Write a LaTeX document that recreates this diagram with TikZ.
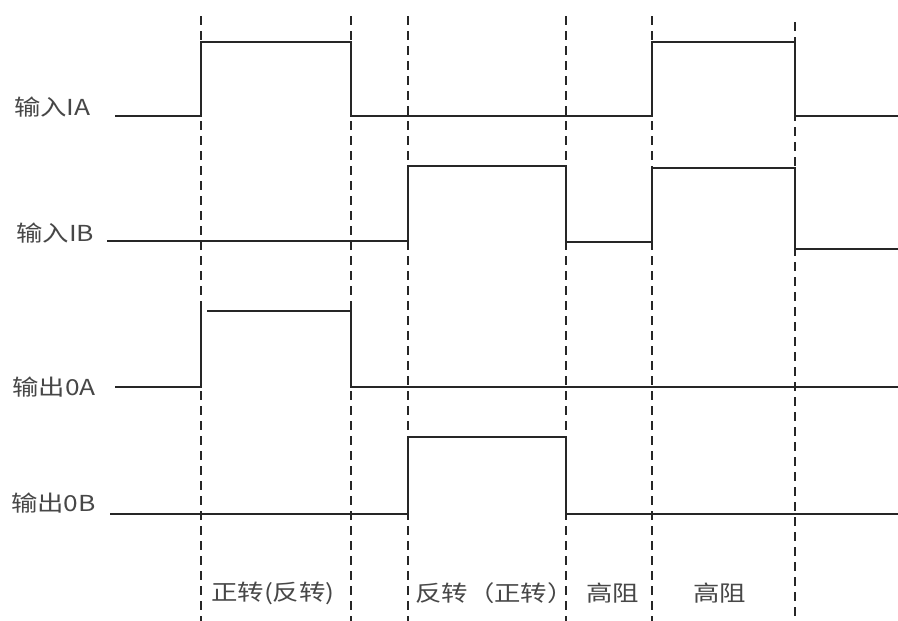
\documentclass[tikz,border=0pt]{standalone}
\usepackage{fontspec}
\setmainfont{Noto Sans CJK SC}
\newfontfamily\widecjk[FakeStretch=1.2]{Noto Sans CJK SC}
\begin{document}
\begin{tikzpicture}[x=1pt,y=-1pt,
  sig/.style={line width=1.3pt,black!85},
  grid/.style={line width=1.1pt,black!85,dash pattern=on 9pt off 6pt},
  lbl/.style={inner sep=0pt,anchor=west,text=black!72,font=\widecjk\fontsize{22}{26}\selectfont}]
\useasboundingbox[fill=white] (0,0) rectangle (898,621);
% dashed time markers
\foreach \x in {201,351,408,566,652} \draw[grid] (\x,16) -- (\x,621);
\draw[grid] (795,22) -- (795,621);
% signals
\draw[sig] (115,116) -- (201,116) -- (201,42) -- (351,42) -- (351,116) -- (652,116) -- (652,42) -- (795,42) -- (795,116) -- (898,116);
\draw[sig] (107,241) -- (408,241) -- (408,166) -- (566,166) -- (566,242) -- (652,242) -- (652,168) -- (795,168) -- (795,249) -- (898,249);
\draw[sig] (115,387) -- (201,387) -- (201,304);
\draw[sig] (207,311) -- (351,311) -- (351,387) -- (898,387);
\draw[sig] (110,514) -- (408,514) -- (408,437) -- (566,437) -- (566,514) -- (898,514);
% labels
\node[lbl] (ia) at (14,107) {输入IA};
\node[lbl] (ib) at (16,233) {输入IB};
\node[lbl] (oa) at (12,387) {输出0A};
\node[lbl] (ob) at (11,503) {输出0B};
\node[lbl] (p1) at (211,593) {正转(反转)};
\node[lbl] (p2) at (415,593) {反转（正转）};
\node[lbl] (p3) at (586,593) {高阻};
\node[lbl] (p4) at (693,593) {高阻};
\end{tikzpicture}
\end{document}
